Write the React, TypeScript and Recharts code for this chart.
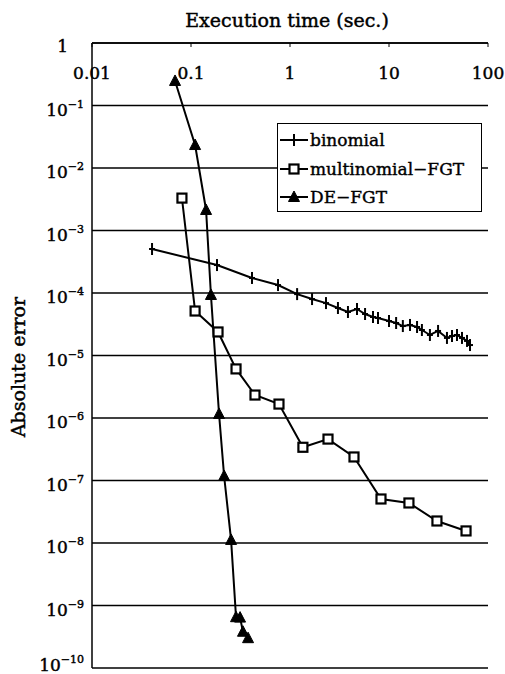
import React from 'react';
import { LineChart, Line, XAxis, YAxis, CartesianGrid, Legend, Label } from 'recharts';

const xTicks = [0.01, 0.1, 1, 10, 100];
const xTickLabels = ['0.01', '0.1', '1', '10', '100'];
const yTicks = [1e-10, 1e-9, 1e-8, 1e-7, 1e-6, 1e-5, 1e-4, 1e-3, 1e-2, 1e-1, 1];

const binX = [0.0404, 0.183, 0.413, 0.757, 1.18, 1.67, 2.31, 3.05, 3.85, 4.75, 5.73, 6.89, 7.74, 10.0, 11.8, 13.8, 16.3, 19.2, 21.5, 25.9, 31.3, 38.5, 43.3, 48.6, 54.6, 61.4, 65.8];
const binY = [5.06e-4, 2.8e-4, 1.74e-4, 1.34e-4, 9.6e-5, 8.0e-5, 6.9e-5, 5.75e-5, 4.97e-5, 5.55e-5, 4.61e-5, 4.13e-5, 3.98e-5, 3.56e-5, 3.31e-5, 2.96e-5, 3.08e-5, 2.86e-5, 2.56e-5, 2.13e-5, 2.47e-5, 1.91e-5, 2.05e-5, 2.13e-5, 1.91e-5, 1.71e-5, 1.47e-5];

const mnX = [0.081, 0.110, 0.1875, 0.285, 0.443, 0.774, 1.35, 2.42, 4.43, 8.3, 15.9, 30.5, 60];
const mnY = [3.3e-3, 5.15e-5, 2.38e-5, 6.1e-6, 2.33e-6, 1.67e-6, 3.4e-7, 4.6e-7, 2.38e-7, 5.06e-8, 4.37e-8, 2.25e-8, 1.56e-8];

const deX = [0.069, 0.110, 0.142, 0.159, 0.192, 0.216, 0.254, 0.285, 0.313, 0.335, 0.377];
const deY = [0.247, 0.0233, 0.00213, 9.3e-5, 1.16e-6, 1.18e-7, 1.12e-8, 6.5e-10, 6.4e-10, 3.8e-10, 3.0e-10];

const seriesNames = ['binomial', 'multinomial\u2212FGT', 'DE\u2212FGT'];

const toData = (xs: number[], ys: number[]) => xs.map((x, i) => ({ x, y: ys[i] }));
const binData = toData(binX, binY);
const mnData = toData(mnX, mnY);
const deData = toData(deX, deY);

const FONT = '"DejaVu Serif", serif';
const TEXT_STROKE = { stroke: '#000', strokeWidth: 0.45 };

const PlusMark = ({ cx, cy }: { cx: number; cy: number }) => (
  <g>
    <line x1={cx} x2={cx} y1={cy - 6} y2={cy + 6} stroke="#000" strokeWidth={2} />
    <line x1={cx - 3} x2={cx + 3} y1={cy} y2={cy} stroke="#000" strokeWidth={2} />
  </g>
);
const SquareMark = ({ cx, cy }: { cx: number; cy: number }) => (
  <rect x={cx - 4.5} y={cy - 4.5} width={9} height={9} fill="#fff" stroke="#000" strokeWidth={2.2} />
);
const TriMark = ({ cx, cy }: { cx: number; cy: number }) => (
  <path d={`M${cx},${cy - 6} L${cx + 5.5},${cy + 4.5} L${cx - 5.5},${cy + 4.5} Z`} fill="#000" stroke="#000" strokeWidth={1} />
);

const dotFn = (Comp: any) => (props: any) => {
  const { cx, cy, index } = props;
  if (cx == null || cy == null) return <g key={index} />;
  return <Comp key={index} cx={cx} cy={cy} />;
};

const XTick = (props: any) => {
  const { x, payload } = props;
  const idx = xTicks.indexOf(payload.value);
  return (
    <g>
      <line x1={x} x2={x} y1={43} y2={47} stroke="#000" strokeWidth={1} />
      <text x={x} y={79} textAnchor="middle" fontFamily={FONT} fontSize={17} fill="#000" {...TEXT_STROKE}>
        {idx >= 0 ? xTickLabels[idx] : ''}
      </text>
    </g>
  );
};

const YTick = (props: any) => {
  const { y, payload } = props;
  const v = payload.value;
  const n = Math.round(-Math.log10(v));
  if (n === 0) {
    return (
      <text x={68} y={y + 9} textAnchor="end" fontFamily={FONT} fontSize={17} fill="#000" {...TEXT_STROKE}>1</text>
    );
  }
  const base = Math.min(y + 10, 671);
  return (
    <text x={84} y={base} textAnchor="end" fontFamily={FONT} fontSize={17} fill="#000" {...TEXT_STROKE}>
      10<tspan dy={-8} fontSize={11}>{'\u2212' + n}</tspan>
    </text>
  );
};

const LegendContent = () => {
  const marks = [PlusMark, SquareMark, TriMark];
  return (
    <div style={{ width: 205, height: 89, border: '1.5px solid #000', background: '#fff', boxSizing: 'border-box', position: 'relative' }}>
      {seriesNames.map((name, i) => {
        const M = marks[i];
        const cy = 16 + i * 28.5;
        return (
          <div key={name} style={{ position: 'absolute', left: 0, top: cy - 12, height: 24, width: 205, display: 'flex', alignItems: 'center' }}>
            <svg width={32} height={24} style={{ display: 'block' }}>
              <line x1={2} x2={30} y1={12} y2={12} stroke="#000" strokeWidth={2} />
              <M cx={16} cy={12} />
            </svg>
            <span style={{ fontFamily: FONT, fontSize: 17, color: '#000', whiteSpace: 'nowrap', WebkitTextStroke: '0.4px #000' }}>{name}</span>
          </div>
        );
      })}
    </div>
  );
};

export default function App() {
  return (
    <div style={{ position: 'absolute', left: 0, top: 0, width: 505, height: 674, background: '#fff' }}>
      <LineChart width={505} height={674} margin={{ top: 13, right: 17, bottom: 6, left: 12 }}>
        <CartesianGrid vertical={false} stroke="#000" strokeWidth={1.3} xAxisId="x" yAxisId="left" />
        <XAxis
          xAxisId="x"
          type="number"
          dataKey="x"
          scale="log"
          domain={[0.01, 100]}
          ticks={xTicks}
          interval={0}
          allowDataOverflow
          orientation="top"
          height={30}
          axisLine={{ stroke: '#000', strokeWidth: 1.5 }}
          tickLine={false}
          tick={<XTick />}
        >
          <Label
            content={() => (
              <text x={287} y={27} textAnchor="middle" fontFamily={FONT} fontSize={19} fill="#000" {...TEXT_STROKE}>
                Execution time (sec.)
              </text>
            )}
          />
        </XAxis>
        <YAxis
          yAxisId="left"
          type="number"
          scale="log"
          domain={[1e-10, 1]}
          ticks={yTicks}
          interval={0}
          allowDataOverflow
          width={80}
          axisLine={{ stroke: '#000', strokeWidth: 1.5 }}
          tickLine={false}
          tick={<YTick />}
        >
          <Label
            content={() => (
              <text
                transform="translate(25,367) rotate(-90)"
                textAnchor="middle"
                fontFamily={FONT}
                fontSize={19}
                fill="#000"
                {...TEXT_STROKE}
              >
                Absolute error
              </text>
            )}
          />
        </YAxis>
        <YAxis
          yAxisId="right"
          orientation="right"
          type="number"
          scale="log"
          domain={[1e-10, 1]}
          allowDataOverflow
          width={0}
          axisLine={{ stroke: '#000', strokeWidth: 1.5 }}
          tickLine={false}
          tick={false}
        />
        <Legend
          layout="horizontal"
          verticalAlign="middle"
          align="center"
          content={<LegendContent />}
          wrapperStyle={{ left: 277, top: 123, width: 205, height: 89 }}
        />
        <Line
          data={binData}
          dataKey="y"
          xAxisId="x"
          yAxisId="left"
          stroke="#000"
          strokeWidth={2}
          dot={dotFn(PlusMark)}
          isAnimationActive={false}
          name={seriesNames[0]}
        />
        <Line
          data={mnData}
          dataKey="y"
          xAxisId="x"
          yAxisId="left"
          stroke="#000"
          strokeWidth={2}
          dot={dotFn(SquareMark)}
          isAnimationActive={false}
          name={seriesNames[1]}
        />
        <Line
          data={deData}
          dataKey="y"
          xAxisId="x"
          yAxisId="left"
          stroke="#000"
          strokeWidth={2}
          dot={dotFn(TriMark)}
          isAnimationActive={false}
          name={seriesNames[2]}
        />
      </LineChart>
    </div>
  );
}
